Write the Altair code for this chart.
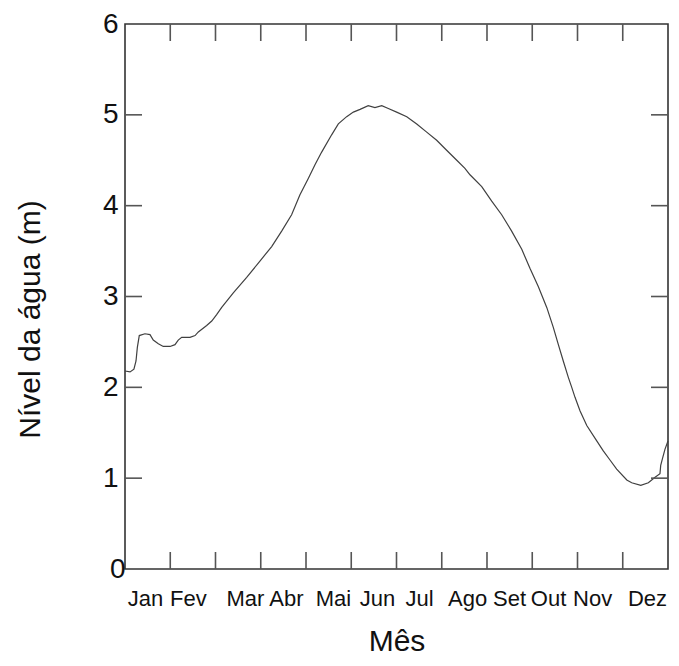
import altair as alt
import pandas as pd

# water level series (day of year, metres)
day = [0, 3.4, 6.0, 7.4, 8.3, 9.6, 13.4, 16.8, 19.0, 22.4, 25.7, 30.3, 33.6, 35.8, 38.1,
       43.7, 47.1, 49.3, 54.9, 58.3, 61.6, 65.0, 72.8, 81.8, 90.7, 98.6, 105.3, 112.0,
       117.6, 123.2, 127.7, 132.2, 138.9, 143.4, 149.0, 153.5, 158.0, 163.5, 168.0,
       172.6, 177.0, 182.6, 189.4, 196.1, 202.8, 209.5, 216.2, 223.0, 228.5, 231.9,
       239.8, 246.5, 253.2, 259.9, 266.7, 272.2, 277.8, 283.5, 287.9, 291.3, 294.6,
       298.0, 300.3, 302.5, 305.9, 310.4, 317.1, 321.5, 326.0, 330.5, 337.3, 340.6,
       346.7, 351.8, 356.3, 359.6, 360.1, 361.5, 363.0, 365]
level = [2.18, 2.17, 2.20, 2.29, 2.44, 2.57, 2.59, 2.58, 2.52, 2.48, 2.45, 2.45, 2.47, 2.52, 2.55,
         2.55, 2.57, 2.61, 2.68, 2.73, 2.80, 2.88, 3.04, 3.21, 3.39, 3.55, 3.72, 3.90,
         4.12, 4.30, 4.45, 4.59, 4.78, 4.90, 4.98, 5.03, 5.06, 5.10, 5.08,
         5.10, 5.07, 5.03, 4.98, 4.90, 4.81, 4.72, 4.61, 4.50, 4.41, 4.34,
         4.21, 4.05, 3.90, 3.72, 3.52, 3.31, 3.11, 2.88, 2.66, 2.47, 2.29,
         2.11, 2.00, 1.89, 1.74, 1.58, 1.41, 1.30, 1.20, 1.10, 0.98, 0.95,
         0.92, 0.95, 1.01, 1.05, 1.14, 1.23, 1.32, 1.41]

months = ["Jan", "Fev", "Mar", "Abr", "Mai", "Jun", "Jul", "Ago", "Set", "Out", "Nov", "Dez"]
month_label_pos = [13.4, 42.3, 80.6, 108.2, 139.8, 169.4, 197.7, 230.0, 258.2, 284.4, 314.0, 350.9]
month_bounds = [round(365 / 12 * k, 2) for k in range(1, 12)]
y_values = [0, 1, 2, 3, 4, 5, 6]
y_inner = [1, 2, 3, 4, 5]

W, H = 543, 545
FONT = "Liberation Sans"
TICK = 17

df = pd.DataFrame({"day": day, "level": level})
bounds_df = pd.DataFrame({"day": month_bounds})
yt_df = pd.DataFrame({"level": y_inner})

xscale = alt.Scale(domain=[0, 365], nice=False, zero=False)
yscale = alt.Scale(domain=[0, 6], nice=False)

label_expr = "[" + ",".join("'%s'" % m for m in months) + "][indexof([" + \
    ",".join(repr(p) for p in month_label_pos) + "], datum.value)]"

x_axis = alt.Axis(values=month_label_pos, labelExpr=label_expr, ticks=False,
                  domain=False, grid=False, labelFontSize=22, labelFont=FONT,
                  labelColor="#111", labelPadding=19, labelFlush=False,
                  title="Mês", titleFont=FONT, titleFontSize=30,
                  titleFontWeight="normal", titleColor="#111",
                  titleY=81, titleBaseline="alphabetic")
y_axis = alt.Axis(values=y_values, ticks=False, domain=False, grid=False,
                  labelFontSize=28, labelFont=FONT, labelColor="#111",
                  labelPadding={"condition": {"test": "datum.value == 0", "value": 0},
                                "value": 7},
                  title="Nível da água (m)", titleFont=FONT, titleFontSize=30,
                  titleFontWeight="normal", titleColor="#111",
                  titleX=-95, titleY=295, titleBaseline="middle",
                  titleAlign="center", titleAngle=-90)

line = alt.Chart(df).mark_line(color="#404040", strokeWidth=1.2).encode(
    x=alt.X("day:Q", scale=xscale, axis=x_axis),
    y=alt.Y("level:Q", scale=yscale, axis=y_axis),
)

tick_style = dict(color="#555", strokeWidth=1.6)

bottom_ticks = alt.Chart(bounds_df).mark_rule(**tick_style).encode(
    x=alt.X("day:Q", scale=xscale, axis=x_axis), y=alt.value(H), y2=alt.value(H - TICK))
top_ticks = alt.Chart(bounds_df).mark_rule(**tick_style).encode(
    x=alt.X("day:Q", scale=xscale, axis=x_axis), y=alt.value(0), y2=alt.value(TICK))
left_ticks = alt.Chart(yt_df).mark_rule(**tick_style).encode(
    y=alt.Y("level:Q", scale=yscale, axis=y_axis), x=alt.value(0), x2=alt.value(TICK))
right_ticks = alt.Chart(yt_df).mark_rule(**tick_style).encode(
    y=alt.Y("level:Q", scale=yscale, axis=y_axis), x=alt.value(W - TICK), x2=alt.value(W))

chart = alt.layer(line, bottom_ticks, top_ticks, left_ticks, right_ticks).properties(
    width=W, height=H,
    autosize=alt.AutoSizeParams(type="none"),
    padding={"left": 117, "top": 16, "right": 3, "bottom": 88},
    background="white",
).configure_view(stroke="#333", strokeWidth=1.6)

chart.save("out.html", embed_options={"renderer": "svg", "actions": False})
